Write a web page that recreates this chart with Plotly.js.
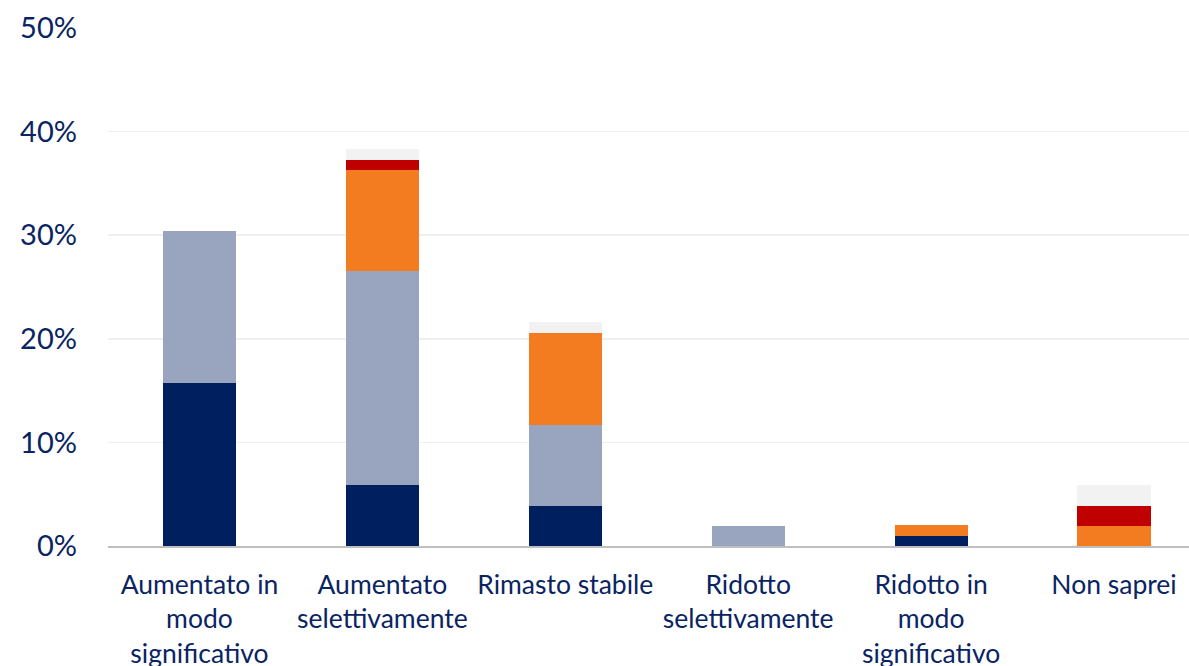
<!DOCTYPE html>
<html><head><meta charset="utf-8">
<script src="https://cdn.plot.ly/plotly-3.0.1.min.js"></script>
<style>html,body{margin:0;padding:0;background:#fff}</style>
</head><body><div id="chart" style="width:1189px;height:666px"></div>
<script>
const categories = ["Aumentato in<br>modo<br>significativo","Aumentato<br>selettivamente","Rimasto stabile","Ridotto<br>selettivamente","Ridotto in<br>modo<br>significativo","Non saprei"];
const seriesNavy   = [15.7, 5.9, 3.9, 0, 1.0, 0];
const seriesGray   = [14.7, 20.6, 7.8, 1.9, 0, 0];
const seriesOrange = [0, 9.8, 8.9, 0, 1.0, 1.9];
const seriesRed    = [0, 1.0, 0, 0, 0, 2.0];
const seriesLight  = [0, 1.0, 1.0, 0, 0, 2.0];
const colors = ["#001F5F","#99A5BE","#F47C20","#C00000","#F2F2F2"];
const all = [seriesNavy, seriesGray, seriesOrange, seriesRed, seriesLight];
const traces = all.map((s,i)=>({type:'bar', x:categories, y:s, marker:{color:colors[i], line:{width:0}}, width:0.4, hoverinfo:'y'}));
const layout = {
  width:1189, height:666, barmode:'stack', showlegend:false,
  margin:{l:108, r:0, t:28, b:120},
  paper_bgcolor:'#fff', plot_bgcolor:'#fff',
  font:{family:'Lato, sans-serif', size:26, color:'#0A2463'},
  xaxis:{type:'category', range:[-0.5,5.41], showgrid:false, showline:true, linecolor:'#BFBFBF', linewidth:2, ticks:'', tickfont:{size:26.5,color:'#0A2463'}, ticklabelstandoff:14},
  yaxis:{range:[0,50], dtick:10, ticksuffix:'%', showgrid:true, gridcolor:'#EFEFEF', gridwidth:1.5, zeroline:false, showline:false, ticks:'', tickfont:{size:29,color:'#0A2463'}, ticklabelstandoff:30}
};
Plotly.newPlot('chart', traces, layout, {displayModeBar:false, staticPlot:true});
</script></body></html>
